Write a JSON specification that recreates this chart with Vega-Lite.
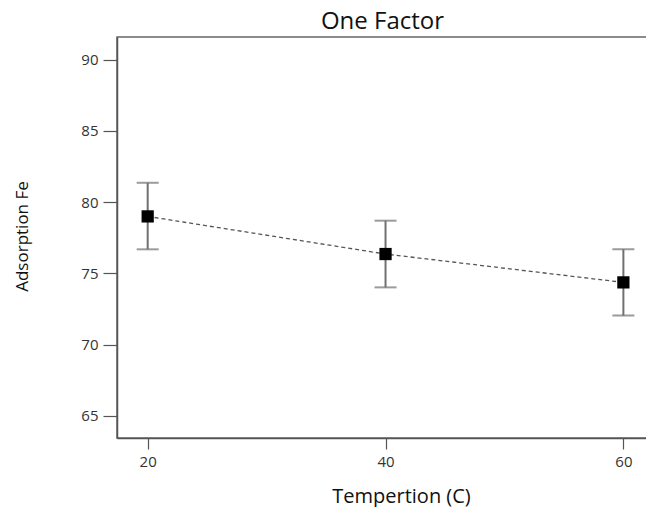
{
  "$schema": "https://vega.github.io/schema/vega-lite/v6.json",
  "autosize": "none",
  "width": 531,
  "height": 401,
  "padding": {"left": 117, "top": 37, "right": -2, "bottom": 69},
  "background": "white",
  "config": {
    "font": "Open Sans",
    "view": {"stroke": "#666666", "strokeWidth": 1.5},
    "axis": {"grid": false, "domainColor": "#555555", "domainWidth": 1.5, "tickColor": "#555555", "tickWidth": 1.2, "labelColor": "#333333", "labelFontSize": 15, "labelFont": "Open Sans", "titleFont": "Open Sans", "titleFontWeight": "normal", "titleColor": "#111111"}
  },
  "title": {"text": "One Factor", "fontSize": 24, "font": "Open Sans", "fontWeight": "normal", "color": "#111111", "offset": 3, "anchor": "middle"},
  "data": {"values": [
    {"temp": 20, "mean": 78.99, "lower": 76.68, "upper": 81.35},
    {"temp": 40, "mean": 76.35, "lower": 74.01, "upper": 78.69},
    {"temp": 60, "mean": 74.36, "lower": 72.03, "upper": 76.68}
  ]},
  "encoding": {
    "x": {"field": "temp", "type": "quantitative", "scale": {"domain": [17.42, 62.07], "nice": false, "zero": false},
      "axis": {"values": [20, 40, 60], "tickSize": 11, "labelPadding": 5, "title": "Tempertion (C)", "titleFontSize": 20, "titleX": 284, "titleY": 58, "titleBaseline": "middle", "titleAnchor": null}}
  },
  "layer": [
    {"mark": {"type": "rule", "color": "#707070", "strokeWidth": 2},
     "encoding": {"y": {"field": "lower", "type": "quantitative"}, "y2": {"field": "upper"}}},
    {"mark": {"type": "tick", "orient": "horizontal", "color": "#707070", "thickness": 2, "size": 22},
     "encoding": {"y": {"field": "upper", "type": "quantitative"}}},
    {"mark": {"type": "tick", "orient": "horizontal", "color": "#707070", "thickness": 2, "size": 22},
     "encoding": {"y": {"field": "lower", "type": "quantitative"}}},
    {"mark": {"type": "line", "color": "#555555", "strokeWidth": 1.3, "strokeDash": [4, 3]},
     "encoding": {"y": {"field": "mean", "type": "quantitative"}}},
    {"mark": {"type": "point", "shape": "square", "filled": true, "color": "#000000", "opacity": 1, "size": 150},
     "encoding": {"y": {"field": "mean", "type": "quantitative", "scale": {"domain": [63.44, 91.58], "nice": false, "zero": false},
       "axis": {"values": [65, 70, 75, 80, 85, 90], "tickSize": 14, "labelPadding": 5, "title": "Adsorption Fe", "titleFontSize": 17, "titleX": -95, "titleY": 199, "titleAngle": 270, "titleBaseline": "middle", "titleAlign": "center"}}}}
  ]
}
